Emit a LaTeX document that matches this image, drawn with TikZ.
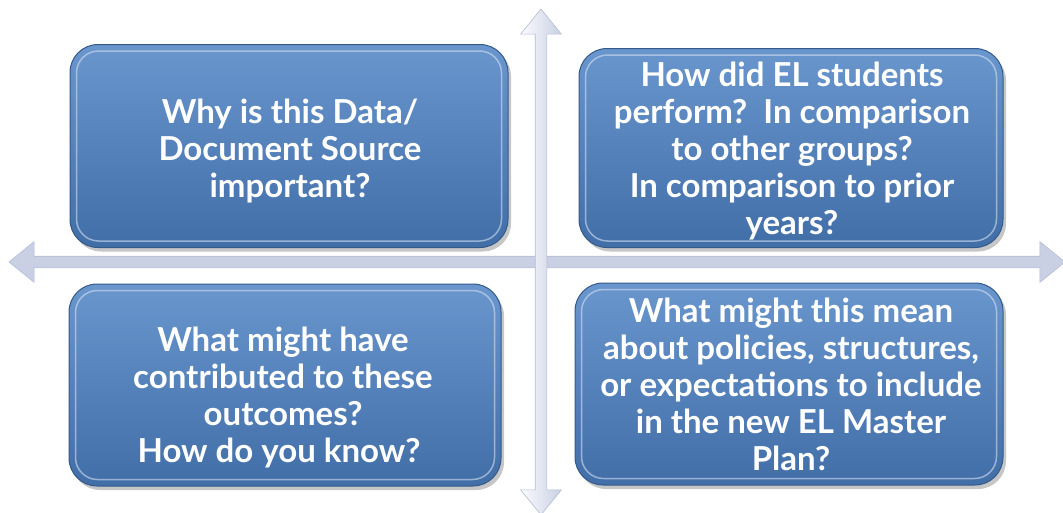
\documentclass[tikz,border=0pt]{standalone}
\usepackage{fontspec}
\setmainfont{Lato}
\usetikzlibrary{shapes.arrows,shadows}
\definecolor{boxtop}{HTML}{6A96CE}
\definecolor{boxbot}{HTML}{426EA8}
\definecolor{boxline}{HTML}{355A8A}
\definecolor{arrowfill}{HTML}{C9D0E4}
\definecolor{arrowline}{HTML}{B3BCD5}
\def\width{1063}
\def\hauteur{512}

\tikzset{
  quadbox/.style={rounded corners=28pt, draw=boxline, line width=1pt,
    top color=boxtop, bottom color=boxbot,
    drop shadow={shadow xshift=3pt, shadow yshift=-4pt, opacity=0.45}},
  quadtext/.style={text=white, font=\fontsize{33}{37}\selectfont\bfseries, align=center},
  bevel/.style={rounded corners=22pt, draw=white!70!boxtop, line width=1.5pt, opacity=0.6},
  crossarrow/.style={double arrow, draw=arrowline, line width=0.6pt,
    minimum width=40pt, double arrow head extend=14.5pt, double arrow tip angle=78,
    inner xsep=0pt, inner ysep=5.5pt}
}

\begin{document}
\begin{tikzpicture}[x=1pt, y=-1pt]
    \useasboundingbox (0,0) rectangle (\width,\hauteur);
    % cross of arrows
    \node[crossarrow, fill=arrowfill, minimum height=1056pt] (horiz) at (537,262) {};
    \node[crossarrow, rotate=90, top color=white!92!arrowfill, bottom color=arrowfill,
      shading angle=90, minimum height=506pt] (vert) at (541,262) {};
    % four boxes
    \node[quadbox, minimum width=438pt, minimum height=203pt] (whybox) at (289,146) {};
    \node[quadbox, minimum width=424pt, minimum height=199pt] (howbox) at (791,148) {};
    \node[quadbox, minimum width=432pt, minimum height=202pt] (contribbox) at (285,385) {};
    \node[quadbox, minimum width=428pt, minimum height=202pt] (meanbox) at (789,384) {};
    % inner bevel highlights
    \foreach \b in {whybox,howbox,contribbox,meanbox}
      \draw[bevel] ([shift={(7pt,-7pt)}]\b.north west) rectangle ([shift={(-7pt,7pt)}]\b.south east);
    % texts
    \node[quadtext] (whytext) at (290,151)
      {Why is this Data/\\Document Source\\important?};
    \node[quadtext] (howtext) at (792,151)
      {How did EL students\\perform?~~In comparison\\to other groups?\\In comparison to prior\\years?};
    \node[quadtext] (contribtext) at (283,397)
      {What might have\\contributed to these\\outcomes?\\How do you know?~~};
    \node[quadtext] (meantext) at (791,384)
      {What might this mean\\about policies, structures,\\or expectations to include\\in the new EL Master\\Plan?};
\end{tikzpicture}
\end{document}
